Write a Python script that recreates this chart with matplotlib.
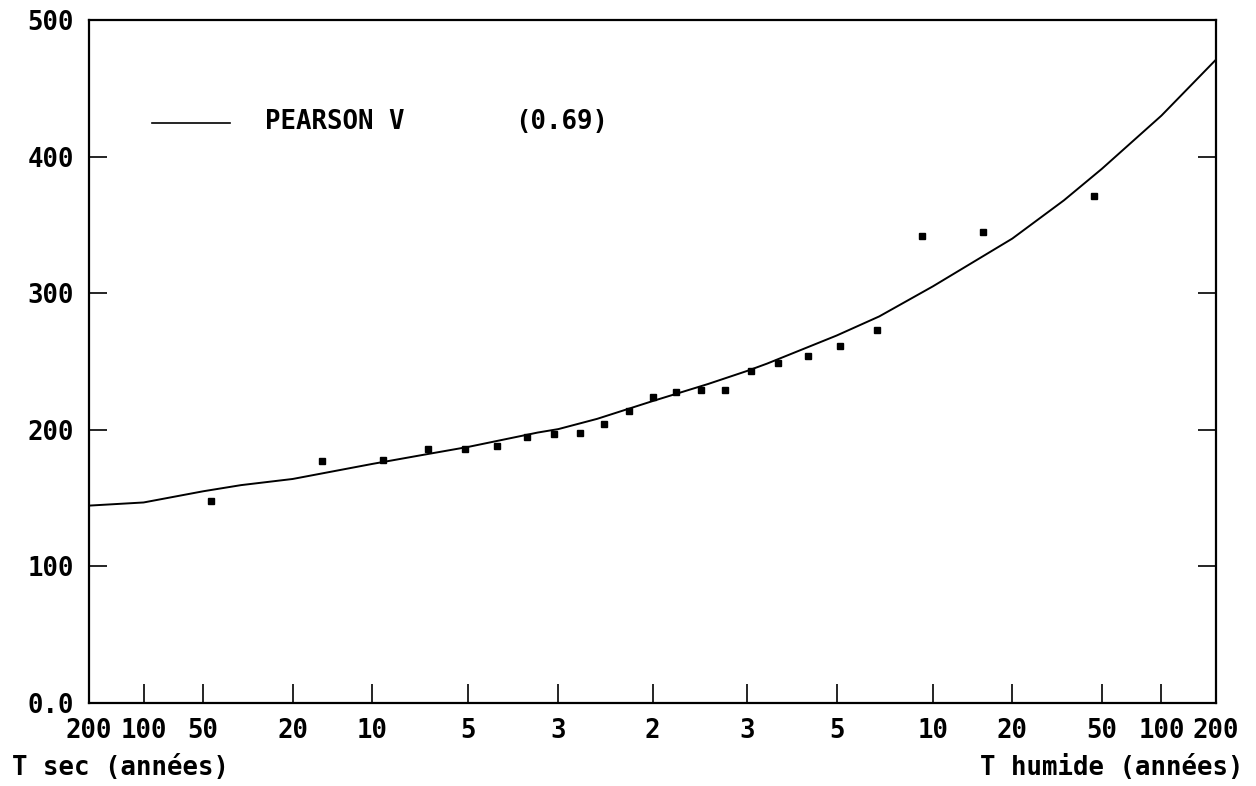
import matplotlib
matplotlib.use('Agg')
import matplotlib.pyplot as plt
from matplotlib.lines import Line2D
from statistics import NormalDist

# périodes de retour affichées sur l'axe des x (côté sec, milieu, côté humide)
T_sec = [200, 100, 50, 20, 10, 5, 3]
T_median = 2
T_humide = [3, 5, 10, 20, 50, 100, 200]

# valeurs observées, classées par ordre croissant
observations = [148, 177, 178, 186, 186, 188, 195, 197, 198, 204, 214, 224,
                228, 229, 229, 243, 249, 254, 261, 273, 342, 345, 371]

# loi ajustée : fréquence au non-dépassement -> valeur
loi_freq = [0.005, 0.01, 0.02, 0.03, 0.05, 0.1, 0.15, 0.2, 0.3, 1/3, 0.4, 0.5,
            0.6, 2/3, 0.7, 0.8, 0.85, 0.9, 0.95, 0.97, 0.98, 0.99, 0.995]
loi_vals = [144.5, 146.8, 155, 159.5, 164, 175, 182, 187.5, 198, 200.5, 208, 221,
            233.5, 243, 248.5, 269, 283, 305, 340, 368, 391, 430, 471]
loi_nom = "PEARSON V"
loi_critere = "(0.69)"

y_ticks = [0, 100, 200, 300, 400, 500]
y_labels = ["0.0", "100", "200", "300", "400", "500"]

gauss = NormalDist()
u = gauss.inv_cdf  # variable réduite de Gauss

# positions de tracé (Hazen)
n = len(observations)
obs_u = [u((i + 0.5) / n) for i in range(n)]
loi_u = [u(f) for f in loi_freq]

# graduations de l'axe des x
x_pos = [u(1 / T) for T in T_sec] + [u(1 - 1 / T_median)] + [u(1 - 1 / T) for T in T_humide]
x_lab = [str(T) for T in T_sec] + [str(T_median)] + [str(T) for T in T_humide]

police = {'family': 'DejaVu Sans Mono', 'weight': 'bold', 'size': 18.5}

W, H = 1256, 786
fig = plt.figure(figsize=(W / 100, H / 100), dpi=100)
ax = fig.add_axes([89 / W, 1 - 703 / H, (1216 - 89) / W, (703 - 20) / H])

ax.plot(loi_u, loi_vals, color='black', lw=1.4, solid_joinstyle='round')
ax.plot(obs_u, observations, 's', color='black', ms=5, mec='black')

ax.set_xlim(u(1 / 200), u(1 - 1 / 200))
ax.set_ylim(0, 500)

for s in ax.spines.values():
    s.set_linewidth(1.6)

ax.set_yticks(y_ticks)
ax.set_yticklabels(y_labels, fontdict=police)
ax.set_xticks(x_pos)
ax.set_xticklabels(x_lab, fontdict=police)
ax.tick_params(axis='y', direction='in', length=13, width=1.2, right=True, pad=11)
ax.tick_params(axis='x', direction='in', length=14, width=1.2, top=False, pad=11)

# légende faite à la main
fig.add_artist(Line2D([152 / W, 230 / W], [1 - 123 / H, 1 - 123 / H], color='black', lw=1.2))
fig.text(265 / W, 1 - 122 / H, loi_nom, va='center', ha='left', **police)
fig.text(515 / W, 1 - 122 / H, loi_critere, va='center', ha='left', **police)

fig.text(12 / W, 1 - 768 / H, "T sec (années)", va='center', ha='left', **police)
fig.text(1244 / W, 1 - 768 / H, "T humide (années)", va='center', ha='right', **police)

fig.savefig('out.png', dpi=100)
